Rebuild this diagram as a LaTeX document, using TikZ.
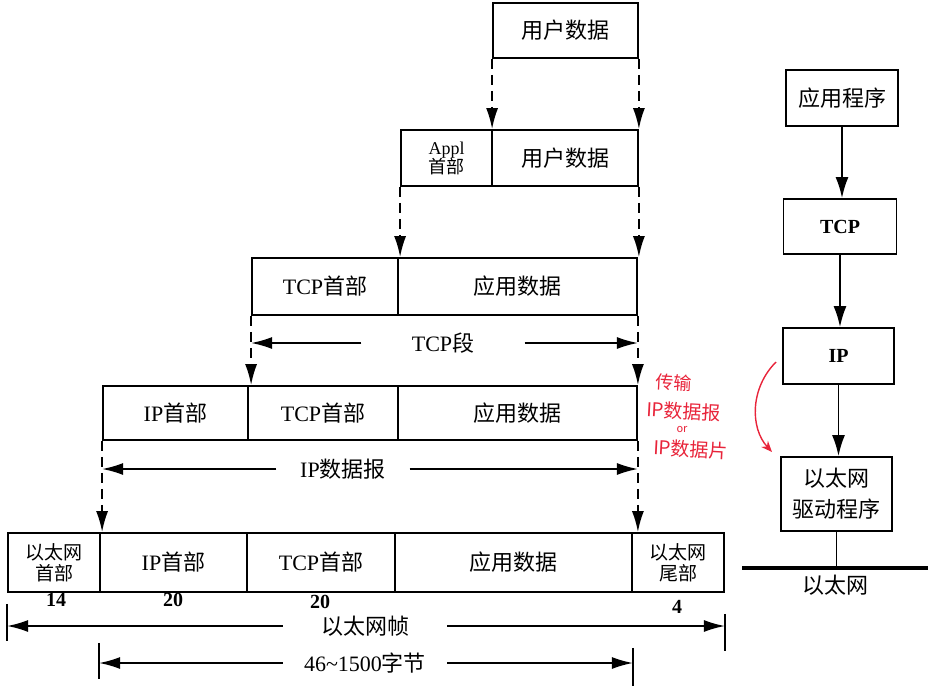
\documentclass[tikz,border=0pt]{standalone}
\usepackage{fontspec}
\setmainfont{Liberation Serif}
\newfontfamily\cjk{Noto Sans CJK SC}
\usetikzlibrary{arrows.meta}
\newcommand\zhs[1]{{\cjk #1}}
\definecolor{handred}{RGB}{232,36,58}
\begin{document}
\begin{tikzpicture}[x=1pt,y=-1pt,
  seg/.style={draw, line width=1.8pt, inner sep=0pt, align=center, font=\fontsize{22}{25}\selectfont},
  dasharrow/.style={line width=1.9pt, dash pattern=on 10pt off 6pt, -{Latex[length=21pt,width=12pt]}},
  dimarrow/.style={line width=1.7pt, -{Latex[length=21pt,width=12pt]}},
  solidarrow/.style={line width=1.9pt, -{Latex[length=21pt,width=13pt]}},
  tickline/.style={line width=1.8pt},
  dimlabel/.style={inner sep=0pt, font=\fontsize{22}{25}\selectfont},
  numlabel/.style={inner sep=0pt, font=\fontsize{20}{22}\selectfont\bfseries},
  hand/.style={text=handred, inner sep=0pt},
]
\useasboundingbox (0,0) rectangle (935,691);

% Row 1
\node[seg, minimum width=145pt, minimum height=55pt] (top) at (565.5,30.5) {\zhs{用户数据}};
% Row 2
\node[seg, minimum width=91pt, minimum height=56pt, font=\fontsize{18}{17}\selectfont] (appl2) at (446.5,158) {Appl\\[-1pt]\zhs{首部}};
\node[seg, minimum width=146pt, minimum height=56pt] (data2) at (565,158) {\zhs{用户数据}};
% Row 3
\node[seg, minimum width=146pt, minimum height=57pt] (tcph3) at (325,286.5) {TCP\zhs{首部}};
\node[seg, minimum width=239pt, minimum height=57pt] (app3) at (517.5,286.5) {\zhs{应用数据}};
% Row 4
\node[seg, minimum width=145pt, minimum height=54pt] (iph4) at (175.5,413) {IP\zhs{首部}};
\node[seg, minimum width=150pt, minimum height=54pt] (tcph4) at (323,413) {TCP\zhs{首部}};
\node[seg, minimum width=239pt, minimum height=54pt] (app4) at (517.5,413) {\zhs{应用数据}};
% Row 5
\node[seg, minimum width=92pt, minimum height=59pt, font=\fontsize{19}{21}\selectfont] (eh5) at (54,562.5) {\zhs{以太网}\\\zhs{首部}};
\node[seg, minimum width=147pt, minimum height=59pt] (iph5) at (173.5,562.5) {IP\zhs{首部}};
\node[seg, minimum width=148pt, minimum height=59pt] (tcph5) at (321,562.5) {TCP\zhs{首部}};
\node[seg, minimum width=237pt, minimum height=59pt] (app5) at (513.5,562.5) {\zhs{应用数据}};
\node[seg, minimum width=92pt, minimum height=59pt, font=\fontsize{19}{21}\selectfont] (et5) at (678,562.5) {\zhs{以太网}\\\zhs{尾部}};

% numbers
\node[numlabel] (n14) at (56,600) {14};
\node[numlabel] (n20a) at (173,600) {20};
\node[numlabel] (n20b) at (320,602) {20};
\node[numlabel] (n4) at (677,607) {4};

% dashed encapsulation arrows
\draw[dasharrow] (top.south west) -- (top.south west |- data2.north);
\draw[dasharrow] (top.south east) -- (top.south east |- data2.north);
\draw[dasharrow] (appl2.south west) -- (appl2.south west |- tcph3.north);
\draw[dasharrow] (data2.south east) -- (data2.south east |- app3.north);
\draw[dasharrow] (tcph3.south west) -- (tcph3.south west |- iph4.north);
\draw[dasharrow] (app3.south east) -- (app3.south east |- app4.north);
\draw[dasharrow] (iph4.south west) -- (iph4.south west |- iph5.north);
\draw[dasharrow] (app4.south east) -- (app4.south east |- app5.north);

% dimension: TCP segment
\node[dimlabel, minimum width=163pt] (tcpseg) at (443,343) {TCP\zhs{段}};
\draw[dimarrow] (tcpseg.west) -- (tcpseg.west -| tcph3.south west);
\draw[dimarrow] (tcpseg.east) -- (tcpseg.east -| app3.south east);
% dimension: IP datagram
\node[dimlabel, minimum width=133pt] (ipdg) at (343,469) {IP\zhs{数据报}};
\draw[dimarrow] (ipdg.west) -- (ipdg.west -| iph4.south west);
\draw[dimarrow] (ipdg.east) -- (ipdg.east -| app4.south east);
% dimension: Ethernet frame
\node[dimlabel, minimum width=164pt] (frame) at (365,626) {\zhs{以太网帧}};
\draw[tickline] ([yshift=-11pt]eh5.south west) -- ([yshift=-48pt]eh5.south west);
\draw[tickline] ([yshift=-21pt]et5.south east) -- ([yshift=-58pt]et5.south east);
\draw[dimarrow] (frame.west) -- (frame.west -| eh5.south west);
\draw[dimarrow] (frame.east) -- (frame.east -| et5.south east);
% dimension: 46~1500 bytes
\node[dimlabel, minimum width=164pt] (bytes) at (365,663) {46\char`\~1500\zhs{字节}};
\draw[tickline] ([yshift=-50pt]iph5.south west) -- ([yshift=-86pt]iph5.south west);
\draw[tickline] ([yshift=-55pt]app5.south east) -- ([yshift=-93pt]app5.south east);
\draw[dimarrow] (bytes.west) -- (bytes.west -| iph5.south west);
\draw[dimarrow] (bytes.east) -- (bytes.east -| app5.south east);

% right-hand stack
\node[seg, minimum width=112pt, minimum height=56pt, font=\fontsize{22}{25}\selectfont] (app) at (842,98) {\zhs{应用程序}};
\node[seg, minimum width=113pt, minimum height=55pt, font=\fontsize{20}{24}\selectfont\bfseries] (tcp) at (840,226.5) {TCP};
\node[seg, minimum width=111pt, minimum height=56pt, font=\fontsize{20}{24}\selectfont\bfseries] (ip) at (838.5,356) {IP};
\node[seg, minimum width=111pt, minimum height=74pt, font=\fontsize{22}{31}\selectfont] (drv) at (836.5,494) {\zhs{以太网}\\\zhs{驱动程序}};
\draw[solidarrow] (app.south) -- (app.south |- tcp.north);
\draw[solidarrow] (tcp.south) -- (tcp.south |- ip.north);
\draw[solidarrow] (ip.south) -- (ip.south |- drv.north);
\coordinate (busL) at (742,568);
\coordinate (busR) at (928,568);
\draw[line width=4.5pt] (busL) -- (busR);
\draw[line width=1.9pt] (drv.south) -- (drv.south |- busL);
\node[inner sep=0pt, font=\fontsize{22}{25}\selectfont] (ethlbl) at (835,585) {\zhs{以太网}};

% handwritten red notes
\node[hand, font=\cjk\fontsize{18}{20}\selectfont, rotate=-3] (n1) at (674,383) {传输};
\node[hand, font=\cjk\fontsize{19}{20}\selectfont, rotate=-3] (n2) at (684,411) {IP数据报};
\node[hand, font=\cjk\fontsize{11}{12}\selectfont] (n3) at (682,430) {or};
\node[hand, font=\cjk\fontsize{19}{20}\selectfont, rotate=-3] (n4h) at (691,449) {IP数据片};
\coordinate (cA) at (776,362);
\coordinate (cB) at (772,452);
\draw[handred, line width=1.4pt, -{Stealth[length=11pt,width=9pt]}] (cA) .. controls (750,388) and (750,428) .. (cB);
\end{tikzpicture}
\end{document}
